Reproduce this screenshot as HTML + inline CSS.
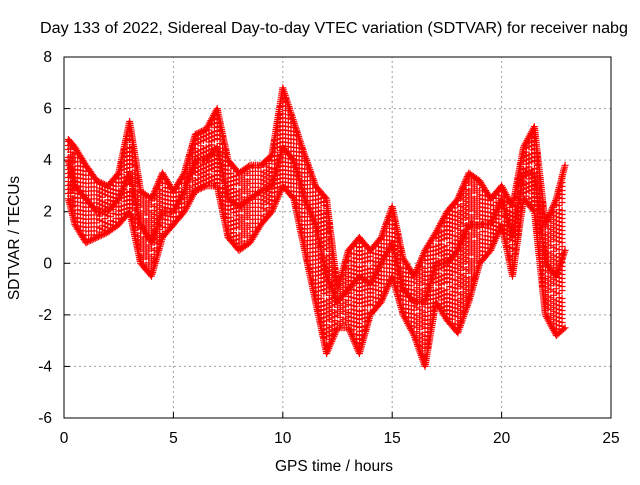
<!DOCTYPE html>
<html><head><meta charset="utf-8"><style>
body{margin:0;background:#fff}
svg text{font-family:"Liberation Sans",sans-serif;font-size:15.5px;fill:#000}
</style></head><body>
<svg id="chart" width="640" height="480" xmlns="http://www.w3.org/2000/svg">
<text x="334" y="33" text-anchor="middle" textLength="588" lengthAdjust="spacingAndGlyphs">Day 133 of 2022, Sidereal Day-to-day VTEC variation (SDTVAR) for receiver nabg</text>
<text x="334" y="471" text-anchor="middle">GPS time / hours</text>
<text x="0" y="0" text-anchor="middle" transform="translate(19,238) rotate(-90)">SDTVAR / TECUs</text>
<g id="grid"></g><g id="ticks"></g><g id="marks"></g>
<rect x="64" y="57" width="547" height="361" fill="none" stroke="#000" stroke-width="1"/>
</svg>
<script>
const xTicks=[0,5,10,15,20,25];
const yTicks=[-6,-4,-2,0,2,4,6,8];
const hours=[0.2,0.5,1,1.5,2,2.5,3,3.5,4,4.5,5,5.5,6,6.5,7,7.5,8,8.5,9,9.5,10,10.5,11,11.5,12,12.5,13,13.5,14,14.5,15,15.5,16,16.5,17,17.5,18,18.5,19,19.5,20,20.5,21,21.5,22,22.5,22.9];
const highSeries=[4.8,4.5,3.8,3.2,3,3.5,5.5,2.8,2.5,3.5,2.8,3.5,5,5.2,6,4,3.5,3.8,3.8,4.2,6.8,5.5,4.2,3,2.5,-1,0.5,1,0.5,1,2.2,0.2,-0.5,0.5,1.2,2,2.5,3.5,3.2,2.5,3,2.2,4.5,5.3,1.5,2.5,3.8];
const midSeries=[4,3,2.5,2,2,2.5,3.5,1.5,0.8,2,2,2.8,4,4,4.5,2.5,2.2,2.5,2.8,3,4.5,4,2.5,1.5,-0.5,-1.5,-1,-0.5,-0.8,0,0.8,-1,-1.5,-1.5,0,0,0.5,1.5,1.5,1.5,2.5,1,3.5,3.5,0,-0.5,0.5];
const lowSeries=[2.5,1.5,0.8,1,1.2,1.5,2,0,-0.5,1,1.5,2,2.8,3,3,1,0.5,0.8,1.5,2,3,2.5,0.5,-1.5,-3.5,-2.5,-2.5,-3.5,-2,-1.5,-0.5,-2,-2.8,-4,-1.5,-2.2,-2.7,-1.5,0,0.5,1.5,-0.5,2.5,2,-2,-2.8,-2.5];
const X0=64,X1=611,Y0=418,Y1=57;
const xs=t=>X0+(t-0)/(25-0)*(X1-X0);
const ys=v=>Y0-(v-(-6))/(8-(-6))*(Y0-Y1);
const NS="http://www.w3.org/2000/svg";
const grid=document.getElementById('grid'),ticks=document.getElementById('ticks'),marks=document.getElementById('marks');
function mk(tag,attrs,parent){const e=document.createElementNS(NS,tag);for(const k in attrs)e.setAttribute(k,attrs[k]);parent.appendChild(e);return e;}
xTicks.forEach(t=>{const x=xs(t);
 if(t>0&&t<25){const g=mk('line',{x1:x,x2:x,y1:Y0,y2:Y1,stroke:'#a0a0a0','stroke-dasharray':'2,3'},grid);
 
 }
 mk('line',{x1:x,x2:x,y1:Y0,y2:Y0-6,stroke:'#000'},ticks);
 const tx=mk('text',{x:x,y:443,'text-anchor':'middle'},ticks);tx.textContent=t;
 
 
});
yTicks.forEach(v=>{const y=ys(v);
 if(v>-6&&v<8){const g=mk('line',{x1:X0,x2:X1,y1:y,y2:y,stroke:'#a0a0a0','stroke-dasharray':'2,3'},grid);
 
 }
 mk('line',{x1:X0,x2:X0+6,y1:y,y2:y,stroke:'#000'},ticks);
 const tx=mk('text',{x:52,y:y+5,'text-anchor':'end'},ticks);tx.textContent=v;
 
 
});
function cross(x,y){return `M${(x-3.5).toFixed(1)},${y.toFixed(1)}h7M${x.toFixed(1)},${(y-3.5).toFixed(1)}v7`;}
function drawSeries(vals,name){
 let d='';
 for(let i=0;i<hours.length;i++){
  const xa=xs(hours[i]),ya=ys(vals[i]);
  d+=cross(xa,ya);
  if(i<hours.length-1){
   const xb=xs(hours[i+1]),yb=ys(vals[i+1]);
   const n=Math.max(1,Math.ceil(Math.hypot(xb-xa,yb-ya)/2));
   for(let k=1;k<n;k++){d+=cross(xa+(xb-xa)*k/n,ya+(yb-ya)*k/n);}
  }
 }
 const p=mk('path',{d:d,stroke:'#ff0000','stroke-width':'1.2',fill:'none'},marks);
 
 
}
function drawBand(){
 let d='';
 for(let i=0;i<hours.length-1;i++){
  const xa=xs(hours[i]),xb=xs(hours[i+1]);
  const n=Math.ceil((xb-xa)/3);
  for(let k=0;k<n;k++){
   const f=k/n,x=xa+(xb-xa)*f;
   const hi=ys(highSeries[i]+(highSeries[i+1]-highSeries[i])*f);
   const lo=ys(lowSeries[i]+(lowSeries[i+1]-lowSeries[i])*f);
   for(let y=hi+2;y<lo-2;y+=4){if(((k*7+Math.round(y))%11)!==0)d+=cross(x,y);}
  }
 }
 const p=mk('path',{d:d,stroke:'#ff0000','stroke-width':'1.2',fill:'none'},marks);
 
 
}
drawBand();
drawSeries(highSeries,'sdtvar-upper-trace');
drawSeries(midSeries,'sdtvar-mid-trace');
drawSeries(lowSeries,'sdtvar-lower-trace');
</script>
</body></html>
